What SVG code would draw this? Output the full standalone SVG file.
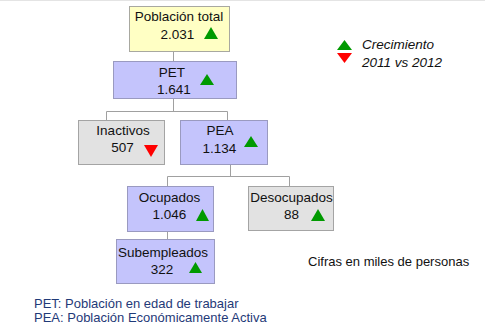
<svg xmlns="http://www.w3.org/2000/svg" width="485" height="330" viewBox="0 0 485 330">
<defs>
<style>
text{font-family:"Liberation Sans",Arial,sans-serif;font-size:13.5px;fill:#111}
.m{text-anchor:middle}
.yel{fill:#ffffc4;stroke:#a8a8a0;stroke-width:1}
.lav{fill:#c4c4fc;stroke:#9a9ac0;stroke-width:1}
.gry{fill:#e2e2e2;stroke:#a4a4a4;stroke-width:1}
.up{fill:#009a00}
.dn{fill:#f00}
.con{fill:none;stroke:#a0a0a0;stroke-width:1}
.foot{fill:#1f3a78;font-size:13px}
.note{font-size:13px}
.it{font-style:italic}
</style>
</defs>
<rect width="485" height="330" fill="#fff"/>
<line x1="0" y1="0.5" x2="485" y2="0.5" stroke="#e4e4e4"/>
<g id="connectors">
<path class="con" d="M173.5 51V61"/>
<path class="con" d="M173.5 98V111.5M106.5 120V111.5H227.5V120"/>
<path class="con" d="M230.5 164V176.5M167.5 186V176.5H289.5V186"/>
<path class="con" d="M167.5 231V239"/>
</g>
<g id="poblacion">
<rect class="yel" x="129.5" y="6.5" width="100" height="45"/>
<text class="m" x="179" y="21">Población total</text>
<text class="m" x="177.5" y="39">2.031</text>
<polygon class="up" points="211,27 218,39 204,39"/>
</g>
<g id="pet">
<rect class="lav" x="113.5" y="61.5" width="123" height="37"/>
<text class="m" x="172" y="77">PET</text>
<text class="m" x="174" y="94">1.641</text>
<polygon class="up" points="207,74 214,85 200,85"/>
</g>
<g id="inactivos">
<rect class="gry" x="78.5" y="120.5" width="86" height="44"/>
<text class="m" x="123" y="135">Inactivos</text>
<text class="m" x="122.5" y="152">507</text>
<polygon class="dn" points="144,145 158,145 151,157"/>
</g>
<g id="pea">
<rect class="lav" x="180.5" y="120.5" width="87" height="44"/>
<text class="m" x="220" y="135">PEA</text>
<text class="m" x="219.5" y="153">1.134</text>
<polygon class="up" points="251,136 258,147 244,147"/>
</g>
<g id="ocupados">
<rect class="lav" x="127.5" y="186.5" width="86" height="45"/>
<text class="m" x="169.5" y="202">Ocupados</text>
<text class="m" x="169.5" y="219">1.046</text>
<polygon class="up" points="202.5,209 209,221 196,221"/>
</g>
<g id="desocupados">
<rect class="gry" x="248.5" y="186.5" width="85" height="44"/>
<text class="m" x="291.5" y="202">Desocupados</text>
<text class="m" x="291.5" y="219">88</text>
<polygon class="up" points="318,209 325,221 311,221"/>
</g>
<g id="subempleados">
<rect class="lav" x="116.5" y="239.5" width="98" height="44"/>
<text class="m" x="163" y="257">Subempleados</text>
<text class="m" x="162" y="274">322</text>
<polygon class="up" points="195.5,262 202,273 189,273"/>
</g>
<g id="legend">
<polygon class="up" points="344.5,40 352,50 337,50"/>
<polygon class="dn" points="337,53 352,53 344.5,63"/>
<text class="it" x="362" y="49">Crecimiento</text>
<text class="it" x="362" y="67">2011 vs 2012</text>
</g>
<g id="notes">
<text class="note" x="308" y="266">Cifras en miles de personas</text>
<text class="foot" x="34" y="308">PET: Población en edad de trabajar</text>
<text class="foot" x="34" y="322">PEA: Población Económicamente Activa</text>
</g>
</svg>
